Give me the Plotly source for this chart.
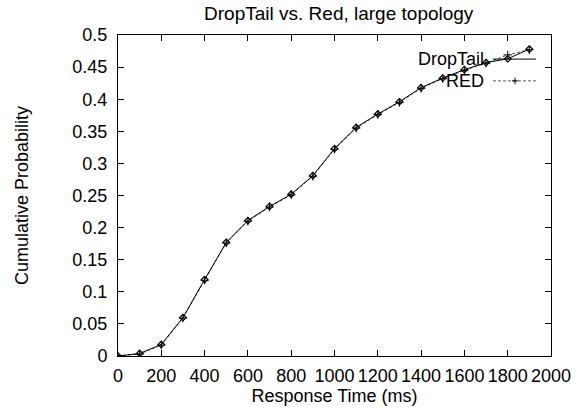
import plotly.graph_objects as go

response_ms = [0, 100, 200, 300, 400, 500, 600, 700, 800, 900, 1000,
               1100, 1200, 1300, 1400, 1500, 1600, 1700, 1800, 1900]
droptail = [0.0, 0.004, 0.018, 0.060, 0.119, 0.177, 0.211, 0.233, 0.252, 0.281,
            0.323, 0.356, 0.377, 0.396, 0.418, 0.433, 0.446, 0.457, 0.463, 0.478]
red = [0.0, 0.003, 0.017, 0.059, 0.118, 0.176, 0.210, 0.232, 0.251, 0.280,
       0.322, 0.355, 0.376, 0.395, 0.417, 0.432, 0.445, 0.456, 0.469, 0.477]

x_ticks = [0, 200, 400, 600, 800, 1000, 1200, 1400, 1600, 1800, 2000]
y_ticks = [0, 0.05, 0.1, 0.15, 0.2, 0.25, 0.3, 0.35, 0.4, 0.45, 0.5]
y_tick_text = ["0", "0.05", "0.1", "0.15", "0.2", "0.25", "0.3", "0.35", "0.4", "0.45", "0.5"]

FONT = "Liberation Sans, Arial, sans-serif"
RED_DASH = "3px,2px"

fig = go.Figure()
fig.add_trace(go.Scatter(
    x=response_ms, y=red, mode="lines+markers", name="RED",
    line=dict(color="#555555", width=1, dash=RED_DASH),
    marker=dict(symbol="cross-thin-open", size=6, color="black", line=dict(width=1, color="black")),
    showlegend=False))
fig.add_trace(go.Scatter(
    x=response_ms, y=droptail, mode="lines+markers", name="DropTail",
    line=dict(color="black", width=1),
    marker=dict(symbol="diamond-open", size=5, color="black", line=dict(width=1.2, color="black")),
    showlegend=False))

# gnuplot-style key: text right-aligned, sample to its right
key_text_x = 0.85
key_y = [0.925, 0.857]
fig.add_annotation(x=key_text_x, y=key_y[0], xref="paper", yref="paper", text="DropTail",
                   showarrow=False, xanchor="right", yanchor="middle",
                   font=dict(family=FONT, size=18, color="black"))
fig.add_annotation(x=key_text_x, y=key_y[1], xref="paper", yref="paper", text="RED",
                   showarrow=False, xanchor="right", yanchor="middle",
                   font=dict(family=FONT, size=18, color="black"))
fig.add_shape(type="line", xref="paper", yref="paper", x0=0.866, x1=0.965, y0=key_y[0], y1=key_y[0],
              line=dict(color="black", width=1))
fig.add_shape(type="line", xref="paper", yref="paper", x0=0.866, x1=0.965, y0=key_y[1], y1=key_y[1],
              line=dict(color="#555555", width=1, dash=RED_DASH))
fig.add_shape(type="line", xref="paper", yref="paper", x0=0.917 - 0.007, x1=0.917 + 0.007,
              y0=key_y[1], y1=key_y[1], line=dict(color="black", width=1))
fig.add_shape(type="line", xref="paper", yref="paper", x0=0.917, x1=0.917,
              y0=key_y[1] - 0.01, y1=key_y[1] + 0.01, line=dict(color="black", width=1))

fig.update_layout(
    width=581, height=408,
    margin=dict(l=118, r=30, t=35, b=52, autoexpand=False),
    paper_bgcolor="white", plot_bgcolor="white",
    font=dict(family=FONT, size=18, color="black"),
    title=dict(text="DropTail vs. Red, large topology", x=0.583, xanchor="center",
               y=0.968, yanchor="middle", font=dict(family=FONT, size=19)),
    showlegend=False,
)
fig.update_xaxes(
    range=[0, 2000], tickvals=x_ticks, ticktext=[str(v) for v in x_ticks],
    ticks="inside", ticklen=6, tickcolor="black", showline=True, linecolor="black",
    linewidth=1, mirror="allticks", showgrid=False, zeroline=False, automargin=False,
    tickfont=dict(size=18), ticklabelstandoff=3,
    title=dict(text="Response Time (ms)", font=dict(size=18), standoff=0),
)
fig.update_yaxes(
    range=[0, 0.5], tickvals=y_ticks, ticktext=y_tick_text,
    ticks="inside", ticklen=6, tickcolor="black", showline=True, linecolor="black",
    linewidth=1, mirror="allticks", showgrid=False, zeroline=False, automargin=False,
    tickfont=dict(size=18), ticklabelstandoff=6,
    title=dict(text="Cumulative Probability", font=dict(size=18), standoff=39),
)

fig.write_html("out.html", config={"displayModeBar": False},
               post_script="document.body.style.margin='0';document.body.style.overflow='hidden';")
